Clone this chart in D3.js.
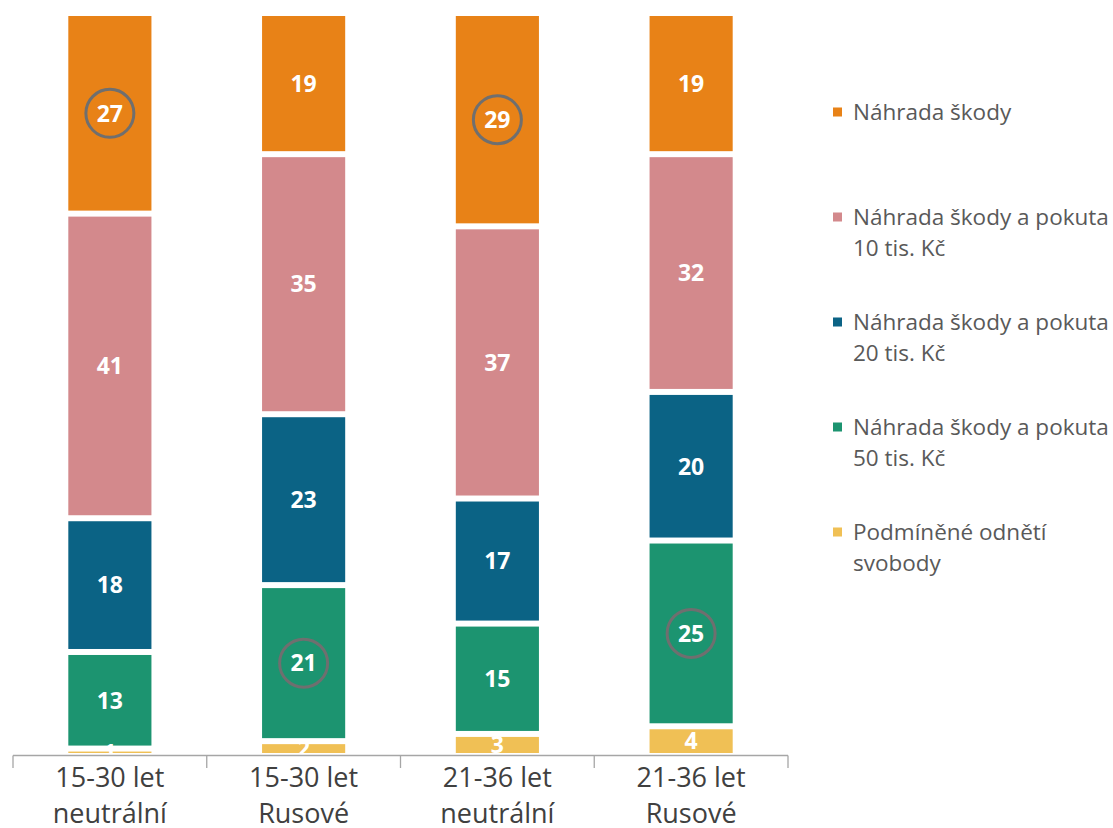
<!DOCTYPE html>
<html>
<head>
<meta charset="utf-8">
<script src="https://cdn.jsdelivr.net/npm/d3@7"></script>
<style>
  body { margin: 0; background: #fff; }
  svg { display: block; font-family: "Open Sans", sans-serif; }
</style>
</head>
<body>
<div id="chart"></div>
<script>
const width = 1113;
const height = 828;

// data
const groups = ["15-30 let|neutrální", "15-30 let|Rusové", "21-36 let|neutrální", "21-36 let|Rusové"];
const series = ["Podmíněné odnětí svobody", "Náhrada škody a pokuta 50 tis. Kč",
    "Náhrada škody a pokuta 20 tis. Kč", "Náhrada škody a pokuta 10 tis. Kč", "Náhrada škody"];
const podminene = [1, 2, 3, 4];
const pokuta50 = [13, 21, 15, 25];
const pokuta20 = [18, 23, 17, 20];
const pokuta10 = [41, 35, 37, 32];
const nahrada = [27, 19, 29, 19];
const colors = ["#f0c055", "#1c9470", "#0b6385", "#d3898c", "#e88217"];
// labels with a circle round them: [group index, series index]
const circled = [[0, 4], [2, 4], [1, 1], [3, 1]];

// legend: top to bottom, lines
const legendItems = [
    { s: 4, lines: ["Náhrada škody"] },
    { s: 3, lines: ["Náhrada škody a pokuta", "10 tis. Kč"] },
    { s: 2, lines: ["Náhrada škody a pokuta", "20 tis. Kč"] },
    { s: 1, lines: ["Náhrada škody a pokuta", "50 tis. Kč"] },
    { s: 0, lines: ["Podmíněné odnětí", "svobody"] }
];

const values = [podminene, pokuta50, pokuta20, pokuta10, nahrada];
const table = groups.map((g, i) => {
    let row = { group: g };
    series.forEach((s, j) => row[s] = values[j][i]);
    return row;
});

const stacked = d3.stack().keys(series).offset(d3.stackOffsetExpand)(table);

let svg = d3.select("#chart").append("svg")
    .attr("width", width)
    .attr("height", height);

let x = d3.scaleBand()
    .domain(groups)
    .range([13, 788])
    .paddingInner(0.54)
    .paddingOuter(0.27);

let y = d3.scaleLinear()
    .domain([0, 1])
    .range([756, 13]);

const gap = 3;

let layers = svg.append("g").selectAll("g")
    .data(stacked)
    .join("g")
    .attr("fill", (d, i) => colors[i]);

layers.selectAll("rect")
    .data(d => d)
    .join("rect")
    .attr("x", d => x(d.data.group) + gap)
    .attr("width", x.bandwidth() - 2 * gap)
    .attr("y", d => y(d[1]) + gap)
    .attr("height", d => Math.max(0, y(d[0]) - y(d[1]) - 2 * gap));

// labels
let labels = svg.append("g");
stacked.forEach((layer, si) => {
    layer.forEach((d, gi) => {
        const cx = x(d.data.group) + x.bandwidth() / 2;
        const cy = (y(d[0]) + y(d[1])) / 2;
        if (circled.some(c => c[0] === gi && c[1] === si)) {
            labels.append("circle")
                .attr("cx", cx)
                .attr("cy", cy)
                .attr("r", 24)
                .attr("fill", "none")
                .attr("stroke", "#6f6f6f")
                .attr("stroke-width", 3);
        }
        labels.append("text")
            .attr("x", cx)
            .attr("y", cy)
            .attr("dy", "0.36em")
            .attr("text-anchor", "middle")
            .attr("fill", "white")
            .style("font-size", "23px")
            .style("font-weight", "bold")
            .text(values[si][gi]);
    });
});

// x axis
let axis = svg.append("g").attr("stroke", "#a6a6a6").attr("stroke-width", 1.3);
const [r0, r1] = x.range();
axis.append("line")
    .attr("x1", r0).attr("x2", r1)
    .attr("y1", 755.5).attr("y2", 755.5);
const half = (x.step() - x.bandwidth()) / 2;
const bounds = groups.map(g => x(g) - half).concat([r1]);
axis.selectAll("line.tick")
    .data(bounds)
    .join("line")
    .attr("class", "tick")
    .attr("x1", d => d).attr("x2", d => d)
    .attr("y1", 755.5).attr("y2", 768);

let catLabels = svg.append("g")
    .selectAll("text")
    .data(groups)
    .join("text")
    .attr("x", d => x(d) + x.bandwidth() / 2)
    .attr("y", 787)
    .attr("text-anchor", "middle")
    .attr("fill", "#404040")
    .style("font-size", "27px");
catLabels.selectAll("tspan")
    .data(d => d.split("|"))
    .join("tspan")
    .attr("x", function() { return d3.select(this.parentNode).attr("x"); })
    .attr("dy", (d, i) => i === 0 ? 0 : 36)
    .text(d => d);

// legend
let legend = svg.append("g");
legendItems.forEach((item, i) => {
    const cy = 112 + i * 105;
    legend.append("rect")
        .attr("x", 833)
        .attr("y", cy - 4.5)
        .attr("width", 9)
        .attr("height", 9)
        .attr("fill", colors[item.s]);
    let t = legend.append("text")
        .attr("x", 853)
        .attr("y", cy + 8)
        .attr("fill", "#595959")
        .style("font-size", "22.5px");
    item.lines.forEach((line, k) => {
        t.append("tspan")
            .attr("x", 853)
            .attr("dy", k === 0 ? 0 : 31)
            .text(line);
    });
});
</script>
</body>
</html>
